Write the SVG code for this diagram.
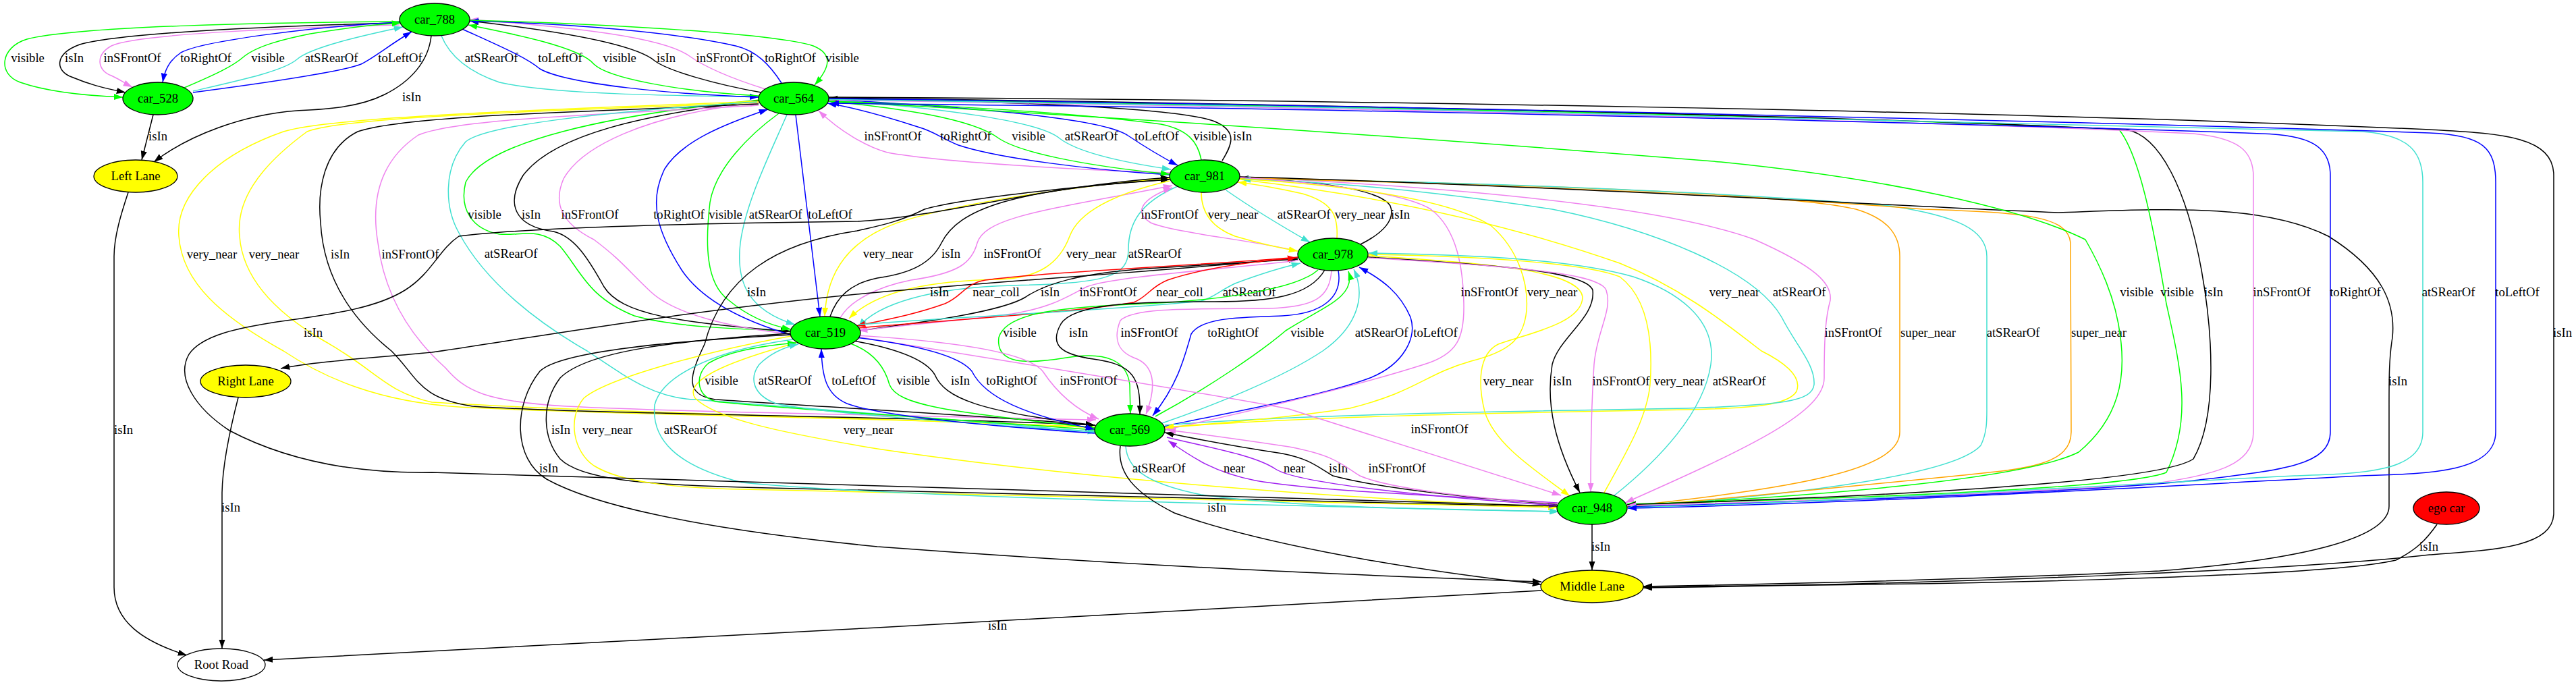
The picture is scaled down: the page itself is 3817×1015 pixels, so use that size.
<svg xmlns="http://www.w3.org/2000/svg" width="3817" height="1015" viewBox="0 0 3817 1015">
<style>
#connectors path{fill:none;stroke-width:1.5}
.k{stroke:#000;marker-end:url(#ak)}
.g{stroke:#00ff00;marker-end:url(#ag)}
.b{stroke:#0000ff;marker-end:url(#ab)}
.v{stroke:#ee82ee;marker-end:url(#av)}
.t{stroke:#40e0d0;marker-end:url(#at)}
.y{stroke:#ffff00;marker-end:url(#ay)}
.o{stroke:#ffa500;marker-end:url(#ao)}
.r{stroke:#ff0000;marker-end:url(#ar)}
.p{stroke:#a020f0;marker-end:url(#ap)}
text{font-family:"Liberation Serif","Times New Roman",serif;font-size:18.67px;text-anchor:middle;fill:#000}
.n ellipse{stroke:#000;stroke-width:1.3}
</style>
<defs>
<marker id="ak" markerUnits="userSpaceOnUse" markerWidth="14" markerHeight="10" refX="13.3" refY="5" orient="auto" viewBox="0 0 14 10"><path d="M0,0.4L13.3,5L0,9.6z" fill="#000"/></marker>
<marker id="ag" markerUnits="userSpaceOnUse" markerWidth="14" markerHeight="10" refX="13.3" refY="5" orient="auto" viewBox="0 0 14 10"><path d="M0,0.4L13.3,5L0,9.6z" fill="#00ff00"/></marker>
<marker id="ab" markerUnits="userSpaceOnUse" markerWidth="14" markerHeight="10" refX="13.3" refY="5" orient="auto" viewBox="0 0 14 10"><path d="M0,0.4L13.3,5L0,9.6z" fill="#0000ff"/></marker>
<marker id="av" markerUnits="userSpaceOnUse" markerWidth="14" markerHeight="10" refX="13.3" refY="5" orient="auto" viewBox="0 0 14 10"><path d="M0,0.4L13.3,5L0,9.6z" fill="#ee82ee"/></marker>
<marker id="at" markerUnits="userSpaceOnUse" markerWidth="14" markerHeight="10" refX="13.3" refY="5" orient="auto" viewBox="0 0 14 10"><path d="M0,0.4L13.3,5L0,9.6z" fill="#40e0d0"/></marker>
<marker id="ay" markerUnits="userSpaceOnUse" markerWidth="14" markerHeight="10" refX="13.3" refY="5" orient="auto" viewBox="0 0 14 10"><path d="M0,0.4L13.3,5L0,9.6z" fill="#ffff00"/></marker>
<marker id="ao" markerUnits="userSpaceOnUse" markerWidth="14" markerHeight="10" refX="13.3" refY="5" orient="auto" viewBox="0 0 14 10"><path d="M0,0.4L13.3,5L0,9.6z" fill="#ffa500"/></marker>
<marker id="ar" markerUnits="userSpaceOnUse" markerWidth="14" markerHeight="10" refX="13.3" refY="5" orient="auto" viewBox="0 0 14 10"><path d="M0,0.4L13.3,5L0,9.6z" fill="#ff0000"/></marker>
<marker id="ap" markerUnits="userSpaceOnUse" markerWidth="14" markerHeight="10" refX="13.3" refY="5" orient="auto" viewBox="0 0 14 10"><path d="M0,0.4L13.3,5L0,9.6z" fill="#a020f0"/></marker>
</defs>
<rect width="3817" height="1015" fill="#fff"/>
<g id="connectors">
<g><path class="g" d="M592,32 C420,33 120,38 40,58 C0,70 -4,110 30,122 C70,136 130,142 182,144"/><text x="41" y="92">visible</text></g>
<g><path class="k" d="M592,34 C420,38 180,48 118,66 C80,80 82,105 106,114 C130,124 150,130 186,137"/><text x="110" y="92">isIn</text></g>
<g><path class="v" d="M592,37 C450,40 200,50 165,68 C140,82 145,105 165,112 C178,118 186,124 196,129"/><text x="196" y="92">inSFrontOf</text></g>
<g><path class="b" d="M592,33 C480,38 300,60 268,78 C250,90 244,105 241,122"/><text x="305" y="92">toRightOf</text></g>
<g><path class="g" d="M273,130 C320,110 345,98 360,85 C380,68 420,58 460,50 C520,40 560,36 594,34"/><text x="397" y="92">visible</text></g>
<g><path class="t" d="M286,135 C360,118 420,105 440,88 C460,70 540,52 597,40"/><text x="491" y="92">atSRearOf</text></g>
<g><path class="b" d="M286,137 C400,122 510,105 535,95 C555,85 575,68 610,47"/><text x="593" y="92">toLeftOf</text></g>
<g><path class="t" d="M654,53 C665,80 690,105 740,122 C820,140 1000,142 1124,143"/><text x="728" y="92">atSRearOf</text></g>
<g><path class="b" d="M685,43 C740,68 780,85 800,102 C840,125 1000,140 1124,144"/><text x="830" y="92">toLeftOf</text></g>
<g><path class="g" d="M1124,142 C1000,135 900,115 880,95 C860,70 760,50 694,37"/><text x="918" y="92">visible</text></g>
<g><path class="k" d="M1128,137 C1060,125 990,105 970,90 C940,65 820,45 696,31"/><text x="987" y="92">isIn</text></g>
<g><path class="v" d="M1134,132 C1080,115 1045,100 1020,82 C980,55 850,40 696,29"/><text x="1074" y="92">inSFrontOf</text></g>
<g><path class="b" d="M1158,123 C1140,95 1120,75 1090,68 C1000,48 850,35 696,31"/><text x="1171" y="92">toRightOf</text></g>
<g><path class="g" d="M696,30 C900,35 1150,50 1205,68 C1235,80 1230,100 1207,126"/><text x="1248" y="92">visible</text></g>
<g><path class="k" d="M639,53 C635,90 610,120 570,140 C530,160 480,162 440,164 C360,170 280,200 228,240"/><text x="610" y="150">isIn</text></g>
<g><path class="k" d="M227,170 L210,237"/><text x="234" y="208">isIn</text></g>
<g><path class="k" d="M190,285 C180,315 169,350 169,380 L169,870 C169,920 210,950 277,971"/><text x="183" y="643">isIn</text></g>
<g><path class="k" d="M353,589 C345,620 330,680 329,730 L329,961"/><text x="342" y="758">isIn</text></g>
<g><path class="v" d="M1733,256 C1600,252 1390,240 1315,226 C1285,218 1245,195 1213,164"/><text x="1323" y="208">inSFrontOf</text></g>
<g><path class="b" d="M1733,259 C1620,252 1480,235 1420,215 C1395,205 1385,195 1360,188 C1320,175 1270,160 1226,153"/><text x="1431" y="208">toRightOf</text></g>
<g><path class="g" d="M1228,150 C1330,160 1440,175 1480,205 C1510,225 1600,245 1733,258"/><text x="1524" y="208">visible</text></g>
<g><path class="t" d="M1228,148 C1400,160 1540,180 1570,205 C1600,228 1680,243 1735,251"/><text x="1617" y="208">atSRearOf</text></g>
<g><path class="b" d="M1228,147 C1450,160 1630,175 1670,200 C1700,220 1720,232 1745,245"/><text x="1714" y="208">toLeftOf</text></g>
<g><path class="g" d="M1780,237 C1775,210 1760,192 1720,184 C1600,168 1400,155 1228,150"/><text x="1793" y="208">visible</text></g>
<g><path class="k" d="M1811,238 C1825,215 1835,195 1800,180 C1750,160 1500,150 1228,146"/><text x="1841" y="208">isIn</text></g>
<g><path class="g" d="M1126,148 C900,170 720,210 690,270 C680,310 700,340 740,347 C770,350 800,335 830,365 C860,400 870,440 940,468 C1000,485 1100,488 1170,490"/><text x="718" y="324">visible</text></g>
<g><path class="k" d="M1126,149 C950,170 820,200 775,260 C750,300 760,335 820,343 C850,350 870,380 895,425 C920,465 1000,478 1171,491"/><text x="787" y="324">isIn</text></g>
<g><path class="v" d="M1171,495 C1080,485 1000,465 965,433 C930,400 920,385 880,355 C830,330 820,300 835,265 C860,220 950,170 1125,152"/><text x="874" y="324">inSFrontOf</text></g>
<g><path class="b" d="M1171,496 C1100,475 1040,445 1010,400 C975,345 960,300 985,250 C1010,210 1070,185 1138,162"/><text x="1006" y="324">toRightOf</text></g>
<g><path class="g" d="M1154,168 C1110,200 1060,250 1052,300 C1045,360 1045,420 1080,445 C1110,470 1140,482 1172,488"/><text x="1075" y="324">visible</text></g>
<g><path class="t" d="M1166,170 C1140,230 1105,300 1097,360 C1090,420 1110,460 1178,481"/><text x="1149" y="324">atSRearOf</text></g>
<g><path class="b" d="M1179,170 L1215,469"/><text x="1230" y="324">toLeftOf</text></g>
<g><path class="y" d="M1124,150 C900,160 500,170 420,195 C320,230 260,290 265,350 C270,420 330,470 420,520 C480,560 560,595 680,603 C900,615 1300,618 1622,633"/><text x="314" y="383">very_near</text></g>
<g><path class="y" d="M1124,152 C900,162 520,170 455,195 C380,250 350,300 355,350 C360,420 420,470 480,505 C560,550 570,580 640,596 C900,612 1300,618 1622,634"/><text x="406" y="383">very_near</text></g>
<g><path class="k" d="M1124,154 C900,165 600,170 530,195 C480,220 470,280 475,330 C480,420 530,480 580,520 C620,560 620,590 700,602 C900,615 1300,615 1623,630"/><text x="504" y="383">isIn</text></g>
<g><path class="v" d="M1124,156 C900,170 680,175 620,200 C560,240 550,300 560,360 C570,440 610,500 660,545 C690,580 720,595 840,602 C1000,610 1300,615 1624,622"/><text x="608" y="383">inSFrontOf</text></g>
<g><path class="t" d="M1122,151 C900,165 720,185 690,210 C655,250 660,310 680,345 C720,420 800,480 870,520 C930,560 970,590 1030,592 C1200,605 1450,625 1625,640"/><text x="757" y="382">atSRearOf</text></g>
<g><path class="y" d="M1733,264 C1600,275 1420,300 1330,330 C1260,355 1225,400 1222,469"/><text x="1316" y="382">very_near</text></g>
<g><path class="k" d="M1230,469 C1240,440 1260,420 1300,412 C1350,405 1380,390 1395,360 C1420,310 1500,280 1733,266"/><text x="1409" y="382">isIn</text></g>
<g><path class="v" d="M1245,471 C1260,445 1300,425 1350,415 C1420,405 1440,390 1448,360 C1460,320 1560,310 1737,275"/><text x="1500" y="382">inSFrontOf</text></g>
<g><path class="y" d="M1733,268 C1660,285 1600,310 1585,350 C1570,390 1540,412 1480,414 C1380,416 1300,430 1258,472"/><text x="1617" y="382">very_near</text></g>
<g><path class="t" d="M1745,276 C1690,300 1672,330 1672,370 C1672,410 1640,420 1500,423 C1380,426 1300,450 1272,485"/><text x="1711" y="382">atSRearOf</text></g>
<g><path class="k" d="M1923,382 C1750,400 1500,415 1280,435 C1000,462 760,505 640,522 C560,530 470,535 416,546"/><text x="1392" y="439">isIn</text></g>
<g><path class="r" d="M1923,381 C1800,392 1560,402 1460,415 C1430,420 1425,440 1400,450 C1350,468 1300,476 1269,483"/><text x="1476" y="439">near_coll</text></g>
<g><path class="k" d="M1273,490 C1330,482 1480,465 1520,440 C1550,420 1600,405 1700,398 C1800,392 1880,386 1923,384"/><text x="1556" y="439">isIn</text></g>
<g><path class="v" d="M1924,386 C1800,400 1650,410 1610,425 C1580,440 1560,455 1500,465 C1420,475 1330,483 1272,490"/><text x="1642" y="439">inSFrontOf</text></g>
<g><path class="r" d="M1272,486 C1400,475 1600,462 1680,448 C1700,440 1705,425 1730,415 C1780,398 1850,388 1921,382"/><text x="1748" y="439">near_coll</text></g>
<g><path class="t" d="M1272,481 C1400,470 1650,460 1780,446 C1800,440 1805,432 1830,420 C1870,405 1900,396 1927,390"/><text x="1851" y="439">atSRearOf</text></g>
<g><path class="k" d="M1733,266 C1600,275 1420,295 1370,310 C1330,330 1300,335 1270,342 C1150,360 1070,410 1044,510 C1020,560 1015,585 1060,592 C1250,605 1450,615 1622,630"/><text x="1121" y="439">isIn</text></g>
<g><path class="g" d="M1953,400 C1920,430 1800,445 1700,450 C1560,455 1490,465 1480,500 C1475,540 1520,540 1580,530 C1640,520 1670,535 1674,570 L1675,613"/><text x="1511" y="499">visible</text></g>
<g><path class="k" d="M1963,400 C1940,440 1880,447 1800,447 C1680,447 1590,450 1572,480 C1555,510 1570,525 1620,532 C1680,540 1690,560 1689,614"/><text x="1598" y="499">isIn</text></g>
<g><path class="v" d="M1973,401 C1970,440 1950,455 1880,457 C1770,458 1680,455 1660,475 C1650,500 1655,520 1680,530 C1710,540 1715,570 1698,614"/><text x="1703" y="499">inSFrontOf</text></g>
<g><path class="b" d="M1983,401 C1990,440 1960,465 1900,468 C1840,470 1780,470 1765,495 C1755,530 1745,570 1708,616"/><text x="1827" y="499">toRightOf</text></g>
<g><path class="g" d="M1712,617 C1790,575 1870,520 1905,490 C1960,455 2010,440 1998,402"/><text x="1937" y="499">visible</text></g>
<g><path class="t" d="M1722,627 C1800,600 1900,560 1960,520 C2010,485 2025,440 2006,399"/><text x="2047" y="499">atSRearOf</text></g>
<g><path class="b" d="M1724,632 C1800,615 1950,590 2030,560 C2080,540 2100,500 2090,470 C2075,435 2050,415 2014,396"/><text x="2127" y="499">toLeftOf</text></g>
<g><path class="v" d="M1923,372 C1850,355 1740,345 1705,330 C1680,315 1690,295 1737,278"/><text x="1733" y="324">inSFrontOf</text></g>
<g><path class="y" d="M1780,285 C1780,310 1790,335 1830,350 C1870,362 1900,368 1923,372"/><text x="1827" y="324">very_near</text></g>
<g><path class="t" d="M1817,282 C1850,305 1890,330 1941,359"/><text x="1932" y="324">atSRearOf</text></g>
<g><path class="y" d="M1981,353 C1983,320 1975,300 1930,287 C1890,278 1860,273 1834,270"/><text x="2015" y="324">very_near</text></g>
<g><path class="k" d="M2016,362 C2050,345 2068,325 2060,305 C2045,280 1950,268 1837,264"/><text x="2075" y="324">isIn</text></g>
<g><path class="v" d="M1837,262 C2100,275 2450,300 2600,355 C2690,395 2715,420 2712,445 C2705,470 2703,500 2703,560 C2703,610 2600,660 2408,745"/><text x="2746" y="499">inSFrontOf</text></g>
<g><path class="o" d="M1837,263 C2200,272 2650,285 2750,310 C2800,325 2815,350 2815,380 L2815,640 C2815,690 2700,720 2410,750"/><text x="2857" y="499">super_near</text></g>
<g><path class="t" d="M2410,752 C2700,730 2900,700 2935,660 C2945,640 2944,620 2944,600 L2944,380 C2944,340 2900,320 2800,305 C2500,280 2100,268 1837,265"/><text x="2983" y="499">atSRearOf</text></g>
<g><path class="o" d="M1837,264 C2200,272 2600,290 2850,310 C3000,315 3065,320 3068,360 L3069,640 C3069,690 3000,695 2900,705 C2700,725 2550,740 2410,751"/><text x="3110" y="499">super_near</text></g>
<g><path class="k" d="M1837,262 C2300,275 2900,310 3050,315 C3200,310 3350,300 3450,350 C3530,400 3550,450 3545,500 C3540,530 3540,560 3540,600 L3540,750 C3540,800 3400,830 3200,846 C2900,860 2600,866 2435,869"/><text x="3553" y="571">isIn</text></g>
<g><path class="y" d="M1838,266 C2000,285 2200,320 2400,390 C2500,430 2570,490 2610,520 C2650,540 2670,560 2662,580 C2650,600 2600,605 2500,607 C2200,612 1900,618 1726,634"/><text x="2570" y="439">very_near</text></g>
<g><path class="t" d="M1726,630 C1900,615 2200,610 2500,605 C2640,600 2685,595 2688,570 C2690,540 2660,510 2640,470 C2600,400 2450,340 2300,310 C2100,280 1950,268 1840,266"/><text x="2666" y="439">atSRearOf</text></g>
<g><path class="v" d="M1837,263 C1950,270 2080,285 2120,310 C2160,340 2168,400 2169,450 C2170,500 2160,525 2110,540 C2000,575 1850,610 1726,637"/><text x="2207" y="439">inSFrontOf</text></g>
<g><path class="y" d="M1837,265 C2000,275 2150,295 2210,335 C2250,370 2265,420 2262,460 C2258,500 2240,520 2180,535 C2110,555 2100,580 2000,605 C1900,620 1800,628 1726,633"/><text x="2300" y="439">very_near</text></g>
<g><path class="y" d="M2027,379 C2200,390 2340,400 2345,440 C2345,480 2260,495 2220,510 C2190,525 2190,570 2200,610 C2215,660 2280,700 2326,735"/><text x="2235" y="571">very_near</text></g>
<g><path class="k" d="M2027,381 C2200,392 2350,400 2360,430 C2365,470 2310,500 2300,540 C2290,600 2305,660 2341,730"/><text x="2315" y="571">isIn</text></g>
<g><path class="v" d="M2027,382 C2250,395 2370,405 2380,430 C2390,460 2366,490 2362,540 C2358,600 2357,660 2357,729"/><text x="2402" y="571">inSFrontOf</text></g>
<g><path class="y" d="M2377,730 C2410,670 2440,620 2445,570 C2450,500 2440,440 2400,410 C2350,390 2200,380 2028,377"/><text x="2488" y="571">very_near</text></g>
<g><path class="t" d="M2391,735 C2460,680 2525,610 2535,540 C2545,470 2480,430 2420,410 C2330,385 2200,378 2028,375"/><text x="2577" y="571">atSRearOf</text></g>
<g><path class="k" d="M1171,494 C1000,505 870,520 830,560 C800,600 805,650 830,680 C860,710 950,718 1100,722 C1500,732 1900,740 2307,751"/><text x="831" y="643">isIn</text></g>
<g><path class="y" d="M1172,498 C1050,520 900,560 865,590 C840,620 850,670 880,690 C920,715 1000,723 1100,725 C1500,733 1900,742 2307,752"/><text x="900" y="643">very_near</text></g>
<g><path class="t" d="M1175,503 C1050,520 980,560 970,600 C965,650 1000,690 1100,715 C1300,735 1900,750 2310,758"/><text x="1023" y="643">atSRearOf</text></g>
<g><path class="y" d="M1180,508 C1100,530 1010,560 1030,590 C1060,620 1150,640 1300,665 C1600,710 2000,740 2309,751"/><text x="1287" y="643">very_near</text></g>
<g><path class="v" d="M1270,499 C1400,520 1800,585 1910,606 L2313,734"/><text x="2133" y="642">inSFrontOf</text></g>
<g><path class="k" d="M1171,496 C1000,505 830,520 800,550 C760,600 760,680 810,710 C900,760 1100,790 1300,810 C1700,840 2000,852 2284,862"/><text x="813" y="700">isIn</text></g>
<g><path class="t" d="M1668,661 C1670,690 1690,715 1780,733 C1900,750 2100,755 2309,758"/><text x="1717" y="700">atSRearOf</text></g>
<g><path class="p" d="M2308,745 C2150,735 1950,728 1860,712 C1800,700 1770,680 1731,653"/><text x="1829" y="700">near</text></g>
<g><path class="p" d="M1729,648 C1800,665 1860,675 1890,695 C1920,715 2100,735 2308,749"/><text x="1918" y="700">near</text></g>
<g><path class="k" d="M2307,747 C2200,740 2050,725 1975,705 C1950,690 1940,680 1900,672 C1820,660 1770,650 1726,641"/><text x="1983" y="700">isIn</text></g>
<g><path class="v" d="M2307,746 C2200,740 2060,725 2015,705 C1990,690 1980,675 1910,662 C1830,650 1770,642 1729,637"/><text x="2070" y="700">inSFrontOf</text></g>
<g><path class="k" d="M1660,661 C1655,700 1680,730 1740,760 C1850,800 2050,840 2284,866"/><text x="1803" y="758">isIn</text></g>
<g><path class="k" d="M2307,750 C1600,730 900,705 640,700 C520,702 420,680 340,638 C290,605 260,560 280,525 C300,495 360,485 410,477 C500,465 560,455 600,430 C640,405 650,370 680,350 C800,335 1100,330 1272,328 C1400,320 1550,275 1733,263"/><text x="464" y="499">isIn</text></g>
<g><path class="g" d="M1622,637 C1400,620 1150,605 1060,595 C1030,585 1030,555 1050,538 C1080,520 1130,512 1180,508"/><text x="1069" y="570">visible</text></g>
<g><path class="t" d="M1622,640 C1400,625 1200,610 1150,598 C1115,585 1110,560 1125,540 C1140,525 1160,515 1183,510"/><text x="1163" y="570">atSRearOf</text></g>
<g><path class="b" d="M1622,642 C1450,630 1300,615 1255,598 C1225,585 1218,560 1217,517"/><text x="1265" y="570">toLeftOf</text></g>
<g><path class="g" d="M1260,509 C1290,520 1310,540 1318,570 C1330,600 1400,610 1622,634"/><text x="1353" y="570">visible</text></g>
<g><path class="k" d="M1265,505 C1320,515 1370,530 1385,555 C1400,590 1450,610 1622,630"/><text x="1423" y="570">isIn</text></g>
<g><path class="b" d="M1268,500 C1350,510 1420,525 1440,550 C1460,590 1520,615 1622,636"/><text x="1499" y="570">toRightOf</text></g>
<g><path class="v" d="M1270,497 C1400,505 1520,520 1545,550 C1565,580 1590,605 1628,621"/><text x="1613" y="570">inSFrontOf</text></g>
<g><path class="k" d="M2359,777 L2359,845"/><text x="2372" y="816">isIn</text></g>
<g><path class="k" d="M3611,777 C3595,800 3580,815 3550,830 C3450,855 2900,867 2435,869"/><text x="3599" y="816">isIn</text></g>
<g><path class="k" d="M1228,144 C2000,148 3000,165 3600,192 C3700,198 3784,200 3784,260 L3784,760 C3784,810 3700,815 3600,822 C3400,845 2900,865 2435,871"/><text x="3797" y="499">isIn</text></g>
<g><path class="g" d="M1228,150 C1500,165 2000,195 2550,240 C2800,265 3000,310 3090,355 C3110,390 3135,440 3142,500 C3150,560 3140,620 3080,670 C3000,710 2700,735 2411,749"/><text x="3166" y="439">visible</text></g>
<g><path class="g" d="M1228,146 C1800,155 2700,170 3140,192 C3170,230 3190,330 3210,450 C3230,540 3250,620 3210,700 C3150,725 2700,740 2411,747"/><text x="3226" y="439">visible</text></g>
<g><path class="k" d="M1228,145 C1800,152 2700,170 3150,192 C3200,200 3240,280 3262,400 C3280,500 3285,620 3250,680 C3200,715 2800,735 2411,748"/><text x="3280" y="439">isIn</text></g>
<g><path class="v" d="M1228,148 C2000,160 2900,180 3250,198 C3320,205 3338,225 3339,260 L3339,640 C3339,690 3280,705 3180,718 C2900,735 2600,745 2411,749"/><text x="3381" y="439">inSFrontOf</text></g>
<g><path class="b" d="M2412,751 C2800,740 3100,728 3250,712 C3380,697 3453,690 3453,640 L3453,260 C3453,215 3420,200 3350,198 C3000,185 2000,160 1230,153"/><text x="3490" y="439">toRightOf</text></g>
<g><path class="t" d="M1228,147 C2000,158 3000,180 3500,195 C3570,200 3590,225 3590,270 L3590,640 C3590,700 3500,702 3400,705 C3100,720 2700,745 2412,752"/><text x="3628" y="439">atSRearOf</text></g>
<g><path class="b" d="M1228,146 C2000,155 3100,180 3600,197 C3680,200 3698,220 3698,270 L3698,640 C3698,700 3600,702 3500,705 C3300,715 2800,745 2412,753"/><text x="3730" y="439">toLeftOf</text></g>
<g><path class="k" d="M2284,875 C2000,890 1500,920 1300,930 C1000,945 600,968 391,978"/><text x="1478" y="933">isIn</text></g>
</g>
<g id="nodes">
<g id="car_788" class="n"><ellipse cx="644" cy="29" rx="52" ry="24" fill="#00ff00"/><text x="644" y="35">car_788</text></g>
<g id="car_528" class="n"><ellipse cx="234" cy="146" rx="52" ry="24" fill="#00ff00"/><text x="234" y="152">car_528</text></g>
<g id="car_564" class="n"><ellipse cx="1176" cy="146" rx="52" ry="24" fill="#00ff00"/><text x="1176" y="152">car_564</text></g>
<g id="left_lane" class="n"><ellipse cx="201" cy="261" rx="62" ry="24" fill="#ffff00"/><text x="201" y="267">Left Lane</text></g>
<g id="car_981" class="n"><ellipse cx="1785" cy="261" rx="52" ry="24" fill="#00ff00"/><text x="1785" y="267">car_981</text></g>
<g id="car_978" class="n"><ellipse cx="1975" cy="377" rx="52" ry="24" fill="#00ff00"/><text x="1975" y="383">car_978</text></g>
<g id="car_519" class="n"><ellipse cx="1223" cy="493" rx="52" ry="24" fill="#00ff00"/><text x="1223" y="499">car_519</text></g>
<g id="right_lane" class="n"><ellipse cx="364" cy="565" rx="67" ry="24" fill="#ffff00"/><text x="364" y="571">Right Lane</text></g>
<g id="car_569" class="n"><ellipse cx="1674" cy="637" rx="52" ry="24" fill="#00ff00"/><text x="1674" y="643">car_569</text></g>
<g id="car_948" class="n"><ellipse cx="2359" cy="753" rx="52" ry="24" fill="#00ff00"/><text x="2359" y="759">car_948</text></g>
<g id="ego_car" class="n"><ellipse cx="3625" cy="753" rx="49" ry="24" fill="#ff0000"/><text x="3625" y="759">ego car</text></g>
<g id="middle_lane" class="n"><ellipse cx="2359" cy="869" rx="76" ry="24" fill="#ffff00"/><text x="2359" y="875">Middle Lane</text></g>
<g id="root_road" class="n"><ellipse cx="328" cy="985" rx="65" ry="24" fill="#ffffff"/><text x="328" y="991">Root Road</text></g>
</g>
</svg>
